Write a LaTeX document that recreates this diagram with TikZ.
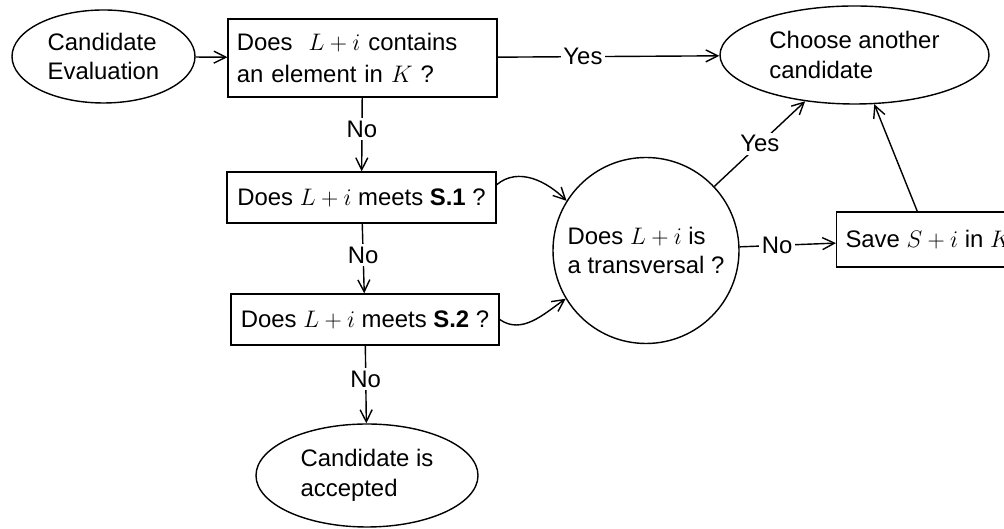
\RequirePackage{fix-cm}
\documentclass[tikz,border=0pt]{standalone}
\usepackage{fontspec}
\setmainfont{Liberation Sans}
\usetikzlibrary{shapes.geometric,arrows.meta}

\begin{document}
\begin{tikzpicture}[>={Straight Barb[length=3mm,width=3mm]}, line width=1pt,
    every node/.style={font=\fontsize{17}{21}\selectfont},
    decision/.style={draw, rectangle, inner sep=0.22cm, minimum height=1.275cm},
    terminal/.style={draw, ellipse, inner sep=0pt, align=left},
    answer/.style={fill=white, inner sep=2pt}]

  % Frame
  \useasboundingbox (0,0) rectangle (25.1,13.225);
  \clip (0,0) rectangle (25.1,13.225);

  %%%%%%%%%%%%%%%%%%%%%%%%%%%%%%%%%%%%%%%%%%%%%%%%%
  % Nodes
  \node[terminal, minimum width=4.575cm, minimum height=2.325cm] (eval)
      at (2.5875,11.8125) {Candidate\\Evaluation};
  \node[decision, text width=6.28cm, align=left, minimum height=1.95cm] (contains)
      at (9.0625,11.775) {Does\ \ $L+i$ contains\\[2pt]an element in $K$ ?};
  \node[terminal, minimum width=6.725cm, minimum height=2.45cm] (choose)
      at (21.3625,11.85) {Choose another\\candidate};
  \node[decision, minimum width=6.725cm] (meets1)
      at (9.0375,8.2875) {Does $L+i$ meets \textbf{S.1} ?};
  \node[decision, minimum width=6.7cm] (meets2)
      at (9.125,5.2375) {Does $L+i$ meets \textbf{S.2} ?};
  \node[terminal, minimum width=5.55cm, minimum height=2.575cm] (accepted)
      at (9.175,1.3375) {Candidate is\\accepted};
  \node[draw, circle, minimum size=4.65cm, inner sep=0pt, align=left] (transv)
      at (16.15,6.9625) {Does $L+i$ is\\a transversal ?};
  \node[decision, anchor=west, minimum height=1.375cm] (save)
      at (20.9,7.2375) {Save $S+i$ in $K$};

  %%%%%%%%%%%%%%%%%%%%%%%%%%%%%%%%%%%%%%%%%%%%%%%%%
  % Main column
  \draw[->] (eval) -- (contains);
  \draw[->] (contains) -- node[answer, pos=0.385] {Yes} (choose);
  \draw[->] (contains) -- node[answer, pos=0.43] {No} (meets1);
  \draw[->] (meets1) -- node[answer, pos=0.45] {No} (meets2);
  \draw[->] (meets2) -- node[answer, pos=0.43] {No} (accepted);

  % Curves to the transversal test
  \draw[->] ([yshift=0.32cm]meets1.east) to[out=40, in=135] (transv.148);
  \draw[->] (meets2.east) to[out=-35, in=215] (transv.211);

  % Transversal outcomes
  \draw[->] (transv) -- node[answer] {Yes} (choose);
  \draw[->] (transv) -- node[answer, pos=0.39] {No} (save);
  \draw[->] (save) -- (choose);

\end{tikzpicture}
\end{document}
